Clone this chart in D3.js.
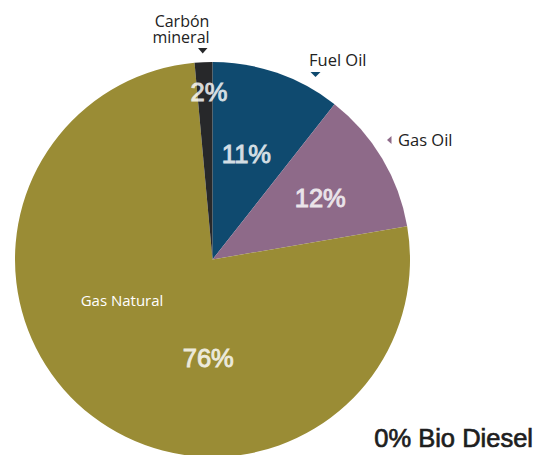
<!DOCTYPE html>
<html>
<head>
<meta charset="utf-8">
<script src="https://cdn.jsdelivr.net/npm/d3@7"></script>
<style>
  html, body { margin: 0; padding: 0; background: #ffffff; }
  svg { display: block; }
</style>
</head>
<body>
<svg id="chart" width="544" height="455"></svg>
<script>
// ---- data ----
const categories = ["Fuel Oil", "Gas Oil", "Gas Natural", "Carbón mineral", "Bio Diesel"];
const shares = [10.6, 11.7, 76.25, 1.45, 0];
const pctLabels = ["11%", "12%", "76%", "2%", "0%"];
const colors = ["#0f4a6f", "#8e6a89", "#9a8c35", "#27282a", "#9a8c35"];

// ---- layout ----
const W = 544, H = 455;
const cx = 212.5, cy = 259.5, R = 197.5;

const svg = d3.select("#chart");
const g = svg.append("g").attr("transform", `translate(${cx},${cy})`);

const data = categories.map((c, i) => ({ cat: c, value: shares[i], label: pctLabels[i], color: colors[i] }));

const pie = d3.pie().value(d => d.value).sort(null).startAngle(0).endAngle(2 * Math.PI);
const arcs = pie(data);
const arc = d3.arc().innerRadius(0).outerRadius(R);

g.selectAll("path.slice")
  .data(arcs.filter(a => a.data.value > 0))
  .join("path")
  .attr("class", "slice")
  .attr("d", arc)
  .attr("fill", d => d.data.color);

// percent labels inside slices (polar: radius, angle in degrees from 12 o'clock)
const pctPos = {
  "Fuel Oil": [111, 17.8],
  "Gas Oil": [124, 60.3],
  "Gas Natural": [98, 182.5],
  "Carbón mineral": [168, -1.2]
};
const polar = (r, deg) => {
  const a = deg * Math.PI / 180;
  return [r * Math.sin(a), -r * Math.cos(a)];
};

g.selectAll("text.pct")
  .data(arcs.filter(a => pctPos[a.data.cat]))
  .join("text")
  .attr("class", "pct")
  .attr("transform", d => {
    const [x, y] = polar(...pctPos[d.data.cat]);
    return `translate(${x},${y})`;
  })
  .attr("text-anchor", "middle")
  .attr("dy", "0.36em")
  .attr("font-family", "Liberation Sans, Arial, sans-serif")
  .attr("font-size", 25.5)
  .attr("fill", "#ffffff")
  .attr("stroke", "#ffffff")
  .attr("stroke-width", 0.9)
  .attr("opacity", 0.82)
  .text(d => d.data.label);

// category name inside Gas Natural
g.append("text")
  .attr("x", 122 - cx)
  .attr("y", 306 - cy)
  .attr("text-anchor", "middle")
  .attr("font-family", "Open Sans, Noto Sans, sans-serif")
  .attr("font-size", 15)
  .attr("fill", "#ffffff")
  .text(categories[2]);

// outside annotations
const font = "Open Sans, Noto Sans, sans-serif";
// Carbón mineral (two lines in one text element)
const carbText = svg.append("text")
  .attr("text-anchor", "middle")
  .attr("font-family", font).attr("font-size", 16).attr("fill", "#222");
carbText.append("tspan").attr("x", 182).attr("y", 27).text("Carbón");
carbText.append("tspan").attr("x", 181).attr("y", 43).text("mineral");
svg.append("path").attr("d", "M198,48 L207.5,48 L202.7,53.5 Z").attr("fill", "#27282a");

// Fuel Oil
svg.append("text").attr("x", 309).attr("y", 66)
  .attr("font-family", font).attr("font-size", 16.5).attr("fill", "#222").text(categories[0]);
svg.append("path").attr("d", "M310.5,72 L320.5,72 L315.5,77 Z").attr("fill", colors[0]);

// Gas Oil
svg.append("text").attr("x", 398).attr("y", 146)
  .attr("font-family", font).attr("font-size", 16.5).attr("fill", "#222").text(categories[1]);
svg.append("path").attr("d", "M391.5,136 L391.5,144 L387,140 Z").attr("fill", colors[1]);

// Bio Diesel note
svg.append("text").attr("x", 533).attr("y", 447).attr("text-anchor", "end")
  .attr("font-family", "Liberation Sans, Arial, sans-serif")
  .attr("font-size", 25.5).attr("fill", "#1e1e1e")
  .attr("stroke", "#1e1e1e").attr("stroke-width", 0.7)
  .text(`${pctLabels[4]} ${categories[4]}`);
</script>
</body>
</html>
